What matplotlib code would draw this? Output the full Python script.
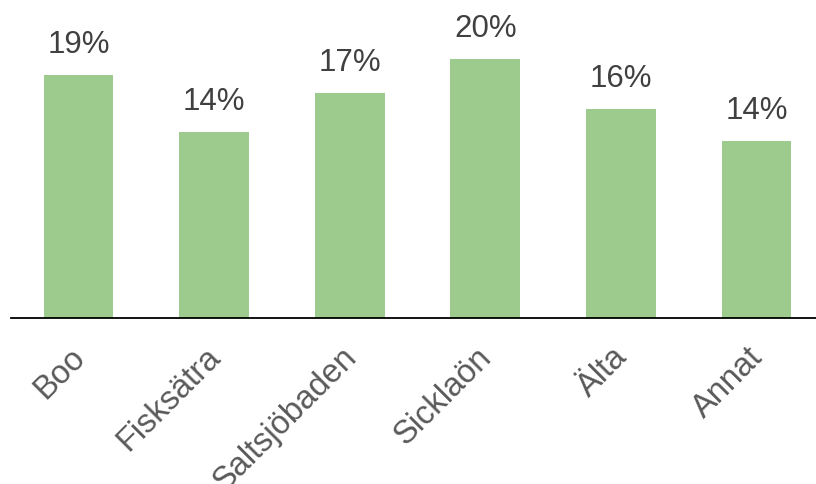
import matplotlib.pyplot as plt
import matplotlib.transforms as mtrans
import numpy as np

plt.rcParams['font.family'] = ['Liberation Sans', 'DejaVu Sans']

omraden = ["Boo", "Fisksätra", "Saltsjöbaden", "Sicklaön", "Älta", "Annat"]
andel = [18.7, 14.3, 17.3, 19.9, 16.1, 13.6]

fig = plt.figure(figsize=(8.16, 4.84), dpi=100)
ax = fig.add_axes([10.7 / 816, 166 / 484, 813.6 / 816, 318 / 484])

x = np.arange(len(omraden))
bars = ax.bar(x, andel, width=0.514, color="#9dcb8e")

for b, v in zip(bars, andel):
    ax.annotate(f"{v:.0f}%", (b.get_x() + b.get_width() / 2, v),
                xytext=(0, 11), textcoords="offset points",
                ha="center", va="bottom", fontsize=22.5, color="#404040")

ax.set_xlim(-0.5, 5.5)
ax.set_ylim(0, 318 / 12.99)
ax.set_xticks(x)
ax.set_xticklabels(omraden, rotation=45, ha="right", va="top",
                   rotation_mode="anchor", fontsize=23.5, color="#595959")
ax.tick_params(axis="x", length=0, pad=17)
# skjut etiketterna lite åt vänster
skift = mtrans.ScaledTranslation(-0.09, 0, fig.dpi_scale_trans)
for lbl in ax.get_xticklabels():
    lbl.set_transform(lbl.get_transform() + skift)
ax.set_yticks([])
for s in ["top", "right", "left"]:
    ax.spines[s].set_visible(False)
ax.spines["bottom"].set_linewidth(1.3)
ax.spines["bottom"].set_color("black")

fig.savefig("out.png", dpi=100)
